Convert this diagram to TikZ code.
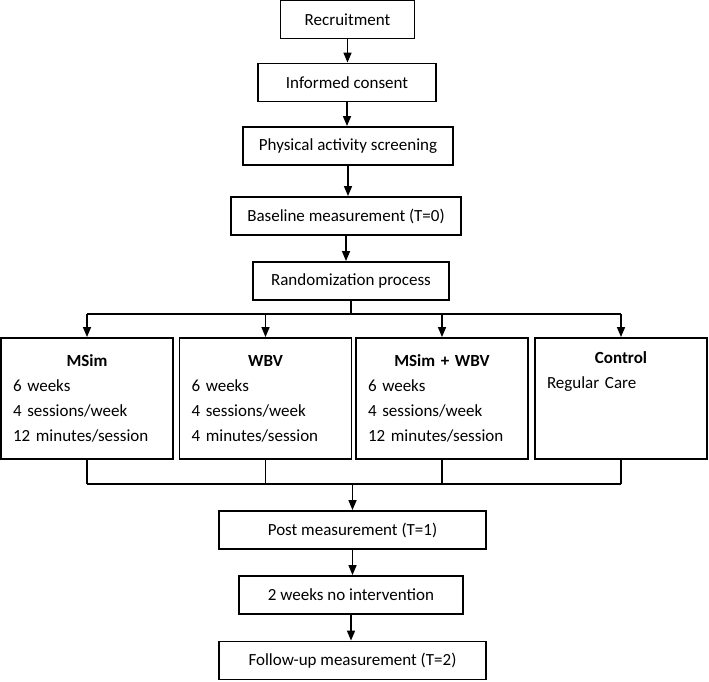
\documentclass[tikz,border=0pt]{standalone}
\usepackage{fontspec}
\setmainfont{Carlito}
\usetikzlibrary{arrows.meta,positioning}

\begin{document}
\begin{tikzpicture}[x=1pt,y=-1pt,
  box/.style={draw,line width=1.9pt,
    minimum height=38pt,inner sep=0pt,
    anchor=center,align=center,
    font=\fontsize{17}{20}\selectfont},
  grp/.style={draw,line width=1.9pt,
    minimum height=121pt,text width=148pt,
    inner xsep=12pt,inner ysep=0pt,align=left,
    font=\fontsize{17}{25}\selectfont},
  lnk/.style={line width=1.5pt},
  arr/.style={lnk,-{Triangle[width=8pt,length=10pt]}}]

 \useasboundingbox (0,0) rectangle (709,681);

 % main column, top part
 \node[box,minimum width=134pt] (recr) at (347.5,19.5) {Recruitment};
 \node[box,minimum width=178pt] (cons) at (347,82.5) {Informed consent};
 \node[box,minimum width=210pt] (phys) at (348,146) {Physical activity screening};
 \node[box,minimum width=230pt] (base) at (346,216) {Baseline measurement (T=0)};
 \node[box,minimum width=196pt] (rand) at (351,281) {Randomization process};

 % the four groups
 \node[grp] (msim) at (87,398.5)
   {{\centering\textbf{MSim}\par}6 weeks\\4 sessions/week\\12 minutes/session};
 \node[grp] (wbv) at (265.5,398.5)
   {{\centering\textbf{WBV}\par}6 weeks\\4 sessions/week\\4 minutes/session};
 \node[grp] (both) at (442,398.5)
   {{\centering\textbf{MSim + WBV}\par}6 weeks\\4 sessions/week\\12 minutes/session};
 \node[grp] (ctrl) at (621,398.5)
   {{\centering\textbf{Control}\par}Regular Care\\\strut\\\strut};

 % main column, bottom part
 \node[box,minimum width=267pt] (post) at (352.5,530) {Post measurement (T=1)};
 \node[box,minimum width=224pt] (wait) at (351,595) {2 weeks no intervention};
 \node[box,minimum width=267pt] (fup) at (352.5,660.5) {Follow-up measurement (T=2)};

 \draw[arr] (recr.south) -- (recr.south |- cons.north);
 \draw[arr] (cons.south) -- (cons.south |- phys.north);
 \draw[arr] (phys.south) -- (phys.south |- base.north);
 \draw[arr] (base.south) -- (base.south |- rand.north);

 % split into the groups
 \draw[lnk] (rand.south) -- ++(0,13) coordinate (split);
 \draw[lnk] (msim.north |- split) -- (ctrl.north |- split);
 \foreach \g in {msim,wbv,both,ctrl}
   \draw[arr] (\g.north |- split) -- (\g.north);

 % merge again
 \path (msim.south) ++(0,24) coordinate (merge);
 \foreach \g in {msim,wbv,both,ctrl}
   \draw[lnk] (\g.south) -- (\g.south |- merge);
 \draw[lnk] (msim.south |- merge) -- (ctrl.south |- merge);
 \draw[arr] (post.north |- merge) -- (post.north);

 \draw[arr] (post.south) -- (post.south |- wait.north);
 \draw[arr] (wait.south) -- (wait.south |- fup.north);

\end{tikzpicture}
\end{document}
